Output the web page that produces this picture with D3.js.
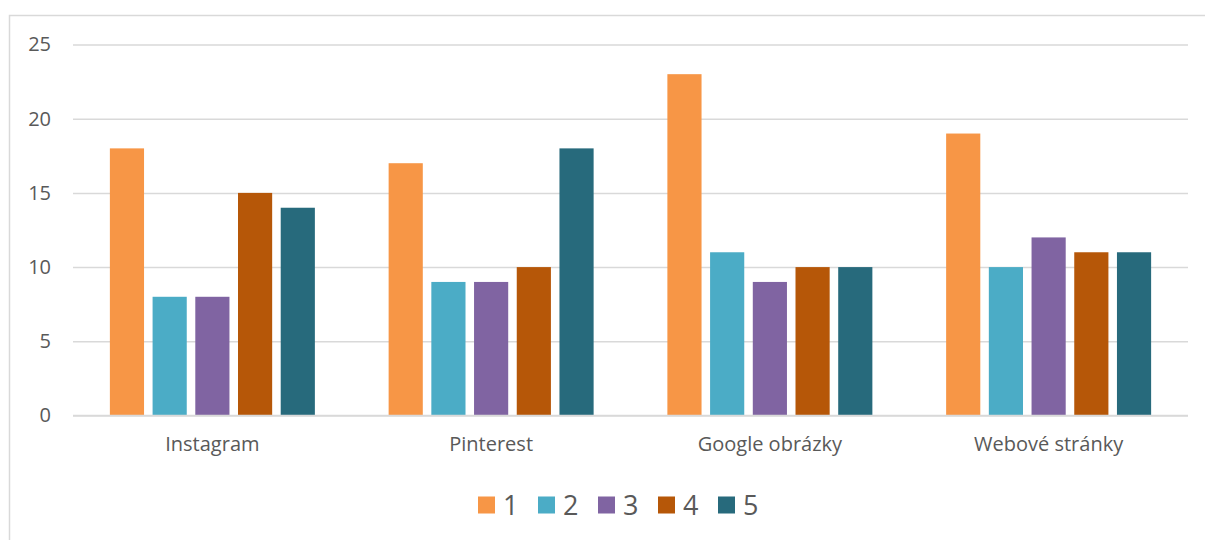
<!DOCTYPE html>
<html>
<head>
<meta charset="utf-8">
<script src="https://cdn.jsdelivr.net/npm/d3@7"></script>
<style>
  html, body { margin: 0; padding: 0; background: #fff; }
  svg { display: block; font-family: "Open Sans", sans-serif; }
</style>
</head>
<body>
<div id="chart"></div>
<script>
const categories = ['Instagram', 'Pinterest', 'Google obrázky', 'Webové stránky'];
const seriesNames = ['1', '2', '3', '4', '5'];
const s1 = [18, 17, 23, 19];
const s2 = [8, 9, 11, 10];
const s3 = [8, 9, 9, 12];
const s4 = [15, 10, 10, 11];
const s5 = [14, 18, 10, 11];
const yTicks = [0, 5, 10, 15, 20, 25];
const colors = ['#f79646', '#4bacc6', '#8064a2', '#b65708', '#276a7c'];

const series = [s1, s2, s3, s4, s5];
const data = categories.map((c, i) => ({
    name: c,
    values: seriesNames.map((s, j) => ({key: s, value: series[j][i]}))
}));

const width = 1205;
const height = 540;
const margin = {top: 44.5, left: 73, bottom: 124.5, right: 17};
const font = '"Open Sans", sans-serif';

const svg = d3.select('#chart').append('svg')
    .attr('width', width).attr('height', height);

// chart border (cropped on right and bottom)
svg.append('rect')
    .attr('x', 9.5).attr('y', 15.5)
    .attr('width', width + 20).attr('height', height + 20)
    .attr('fill', 'none').attr('stroke', '#d9d9d9').attr('stroke-width', 1.5);

const gap = 0.2646;
const x0 = d3.scaleBand()
    .domain(categories)
    .range([margin.left, width - margin.right])
    .paddingInner(gap)
    .paddingOuter(gap / 2);

const x1 = d3.scaleBand()
    .domain(seriesNames)
    .range([0, x0.bandwidth()])
    .paddingInner(0.2);

const y = d3.scaleLinear()
    .domain([0, 25])
    .range([height - margin.bottom, margin.top]);

// gridlines + y labels
const yAxis = g => g
    .attr('transform', `translate(${margin.left}, 0)`)
    .call(d3.axisLeft(y).tickValues(yTicks)
        .tickSize(-(width - margin.right - margin.left))
        .tickPadding(22))
    .attr('font-family', font)
    .call(g => g.select('.domain').remove())
    .call(g => g.selectAll('.tick line').attr('stroke', '#d9d9d9').attr('stroke-width', 1.5))
    .call(g => g.selectAll('.tick text')
        .attr('fill', '#595959').attr('font-size', 20));

svg.append('g').call(yAxis);

// category labels
const xAxis = g => g
    .attr('transform', `translate(0, ${height - margin.bottom})`)
    .call(d3.axisBottom(x0).tickSize(0).tickPadding(21))
    .attr('font-family', font)
    .call(g => g.select('.domain').remove())
    .call(g => g.selectAll('.tick text')
        .attr('fill', '#595959').attr('font-size', 20));

svg.append('g').call(xAxis);

// bars
svg.append('g')
    .selectAll('g').data(data).join('g')
    .attr('transform', d => `translate(${x0(d.name)}, 0)`)
    .selectAll('rect').data(d => d.values).join('rect')
    .attr('x', d => x1(d.key))
    .attr('y', d => y(d.value))
    .attr('width', x1.bandwidth())
    .attr('height', d => y(0) - y(d.value))
    .attr('fill', (d, i) => colors[i]);

// redraw baseline on top
svg.append('line')
    .attr('x1', margin.left).attr('x2', width - margin.right)
    .attr('y1', y(0)).attr('y2', y(0))
    .attr('stroke', '#d9d9d9').attr('stroke-width', 1.5);

// legend
const legend = svg.append('g')
    .attr('transform', 'translate(478, 505)');

const item = legend.selectAll('g').data(seriesNames).join('g')
    .attr('transform', (d, i) => `translate(${i * 60}, 0)`);

item.append('rect')
    .attr('x', 0).attr('y', -8.5)
    .attr('width', 17).attr('height', 17)
    .attr('fill', (d, i) => colors[i]);

item.append('text')
    .attr('x', 25).attr('y', 0)
    .attr('dy', '0.36em')
    .attr('fill', '#595959').attr('font-size', 27)
    .text(d => d);
</script>
</body>
</html>
